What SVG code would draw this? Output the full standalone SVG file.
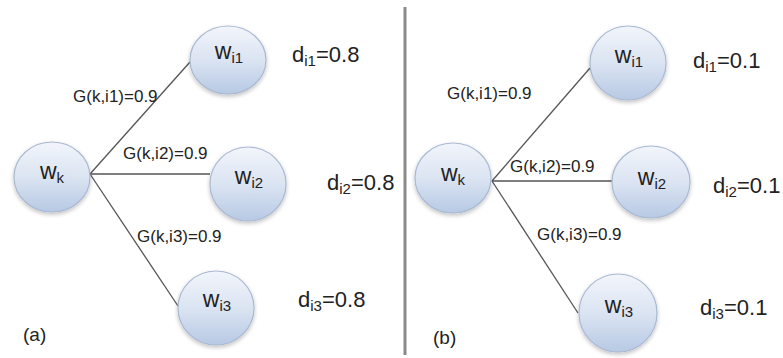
<svg xmlns="http://www.w3.org/2000/svg" width="783" height="358" viewBox="0 0 783 358">
<defs>
<linearGradient id="nodeFill" x1="0" y1="0" x2="0" y2="1">
<stop offset="0" stop-color="#f2f5fb"/>
<stop offset="0.5" stop-color="#dbe4f2"/>
<stop offset="1" stop-color="#b7c9e4"/>
</linearGradient>
<filter id="shadow" x="-20%" y="-20%" width="140%" height="150%">
<feGaussianBlur in="SourceAlpha" stdDeviation="2"/>
<feOffset dx="0" dy="2" result="b"/>
<feComponentTransfer><feFuncA type="linear" slope="0.25"/></feComponentTransfer>
<feMerge><feMergeNode/><feMergeNode in="SourceGraphic"/></feMerge>
</filter>
</defs>
<style>
.node ellipse{fill:url(#nodeFill);stroke:#a9b9d3;stroke-width:1.2;filter:url(#shadow)}
.lbl{font-family:"Liberation Sans",Arial,sans-serif;font-size:23px;fill:#222;text-anchor:middle}
.sub{font-size:15px}
.edge{stroke:#555;stroke-width:1.3;fill:none}
.elbl{font-family:"Liberation Sans",Arial,sans-serif;font-size:17px;fill:#222}
.dl{font-family:"Liberation Sans",Arial,sans-serif;font-size:22px;fill:#222}
.pl{font-family:"Liberation Sans",Arial,sans-serif;font-size:19px;fill:#222}
</style>
<rect width="783" height="358" fill="#ffffff"/>
<line x1="405" y1="7" x2="405" y2="355" stroke="#8a8a8a" stroke-width="3"/>
<g id="connectors">
<line class="edge" x1="90" y1="174" x2="190" y2="62"/>
<line class="edge" x1="90" y1="174" x2="210" y2="174" stroke-width="2"/>
<line class="edge" x1="90" y1="174" x2="178" y2="306"/>
<line class="edge" x1="492" y1="181" x2="590" y2="68"/>
<line class="edge" x1="492" y1="181" x2="612" y2="181"/>
<line class="edge" x1="492" y1="181" x2="578" y2="313"/>
</g>
<g id="a-wk" class="node"><ellipse cx="52" cy="177" rx="38" ry="35"/><text class="lbl" x="52" y="179">w<tspan class="sub" dy="4">k</tspan></text></g>
<g id="a-wi1" class="node"><ellipse cx="228" cy="60" rx="38" ry="34"/><text class="lbl" x="229" y="59">w<tspan class="sub" dy="4">i1</tspan></text></g>
<g id="a-wi2" class="node"><ellipse cx="248" cy="184" rx="38" ry="37"/><text class="lbl" x="249" y="184">w<tspan class="sub" dy="4">i2</tspan></text></g>
<g id="a-wi3" class="node"><ellipse cx="216" cy="308" rx="38" ry="37"/><text class="lbl" x="217" y="307">w<tspan class="sub" dy="4">i3</tspan></text></g>
<g id="b-wk" class="node"><ellipse cx="453" cy="178" rx="38" ry="35"/><text class="lbl" x="453" y="181">w<tspan class="sub" dy="4">k</tspan></text></g>
<g id="b-wi1" class="node"><ellipse cx="628" cy="63" rx="38" ry="37"/><text class="lbl" x="629" y="63">w<tspan class="sub" dy="4">i1</tspan></text></g>
<g id="b-wi2" class="node"><ellipse cx="651" cy="182" rx="39" ry="36"/><text class="lbl" x="652" y="185">w<tspan class="sub" dy="4">i2</tspan></text></g>
<g id="b-wi3" class="node"><ellipse cx="618" cy="313" rx="39" ry="39"/><text class="lbl" x="619" y="313">w<tspan class="sub" dy="4">i3</tspan></text></g>
<g id="edge-labels">
<text class="elbl" x="73" y="102">G(k,i1)=0.9</text>
<text class="elbl" x="123" y="159">G(k,i2)=0.9</text>
<text class="elbl" x="137" y="242">G(k,i3)=0.9</text>
<text class="elbl" x="447" y="99">G(k,i1)=0.9</text>
<text class="elbl" x="510" y="172">G(k,i2)=0.9</text>
<text class="elbl" x="537" y="240">G(k,i3)=0.9</text>
</g>
<g id="d-labels">
<text class="dl" x="292" y="62">d<tspan class="sub" dy="4">i1</tspan><tspan dy="-4">=0.8</tspan></text>
<text class="dl" x="327" y="190">d<tspan class="sub" dy="4">i2</tspan><tspan dy="-4">=0.8</tspan></text>
<text class="dl" x="298" y="307">d<tspan class="sub" dy="4">i3</tspan><tspan dy="-4">=0.8</tspan></text>
<text class="dl" x="693" y="68">d<tspan class="sub" dy="4">i1</tspan><tspan dy="-4">=0.1</tspan></text>
<text class="dl" x="713" y="193">d<tspan class="sub" dy="4">i2</tspan><tspan dy="-4">=0.1</tspan></text>
<text class="dl" x="700" y="315">d<tspan class="sub" dy="4">i3</tspan><tspan dy="-4">=0.1</tspan></text>
</g>
<text class="pl" x="23" y="341">(a)</text>
<text class="pl" x="433" y="344">(b)</text>
</svg>
